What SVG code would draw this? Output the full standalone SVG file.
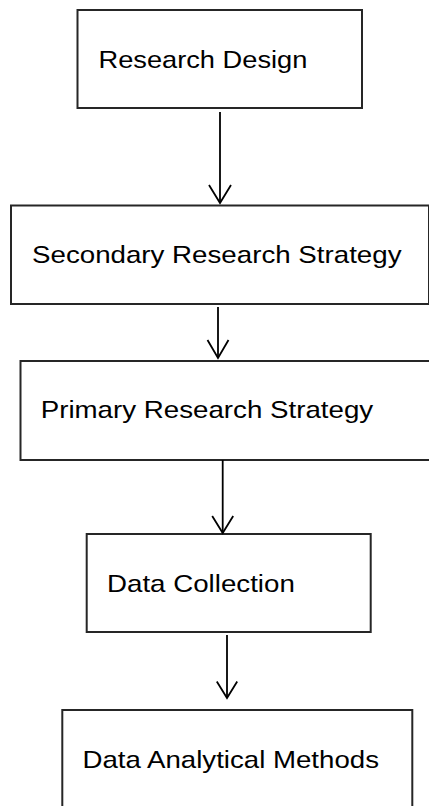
<svg xmlns="http://www.w3.org/2000/svg" width="429" height="806" viewBox="0 0 429 806">
  <defs>
    <style>
      .box rect { fill: #ffffff; stroke: #262626; stroke-width: 2; }
      .box text { font-family: "Liberation Sans", Arial, sans-serif; font-size: 24px; fill: #000000; }
      .edge { stroke: #000000; stroke-width: 1.8; fill: none; }
      .head { stroke: #000000; stroke-width: 1.8; fill: none; stroke-linejoin: miter; }
    </style>
  </defs>
  <rect x="0" y="0" width="429" height="806" fill="#ffffff"/>

  <!-- process steps; labels are widened horizontally to fill their boxes -->
  <g id="research-design" class="box">
    <rect x="77.5" y="10" width="284.5" height="98"/>
    <text transform="translate(98.5,67.5) scale(1.135,1)">Research Design</text>
  </g>
  <g id="secondary-research-strategy" class="box">
    <rect x="11" y="205.5" width="418" height="98.5"/>
    <text transform="translate(32,263) scale(1.155,1)">Secondary Research Strategy</text>
  </g>
  <g id="primary-research-strategy" class="box">
    <rect x="20.5" y="361" width="410" height="99"/>
    <text transform="translate(40.7,418) scale(1.155,1)">Primary Research Strategy</text>
  </g>
  <g id="data-collection" class="box">
    <rect x="86.7" y="534" width="284" height="98"/>
    <text transform="translate(107,591.5) scale(1.155,1)">Data Collection</text>
  </g>
  <g id="data-analytical-methods" class="box">
    <rect x="62.3" y="710" width="350" height="110"/>
    <text transform="translate(82.5,768) scale(1.152,1)">Data Analytical Methods</text>
  </g>

  <!-- connectors -->
  <g id="connectors">
    <line class="edge" x1="220" y1="112" x2="220" y2="203"/>
    <polyline class="head" points="209,185 220,203 231,185"/>

    <line class="edge" x1="218" y1="307" x2="218" y2="358"/>
    <polyline class="head" points="207.5,340 218,358 228.5,340"/>

    <line class="edge" x1="222.7" y1="460" x2="222.7" y2="533"/>
    <polyline class="head" points="212.2,516 222.7,533 233.2,516"/>

    <line class="edge" x1="227" y1="635" x2="227" y2="698"/>
    <polyline class="head" points="216.8,681.5 227,698 237.2,681.5"/>
  </g>
</svg>
